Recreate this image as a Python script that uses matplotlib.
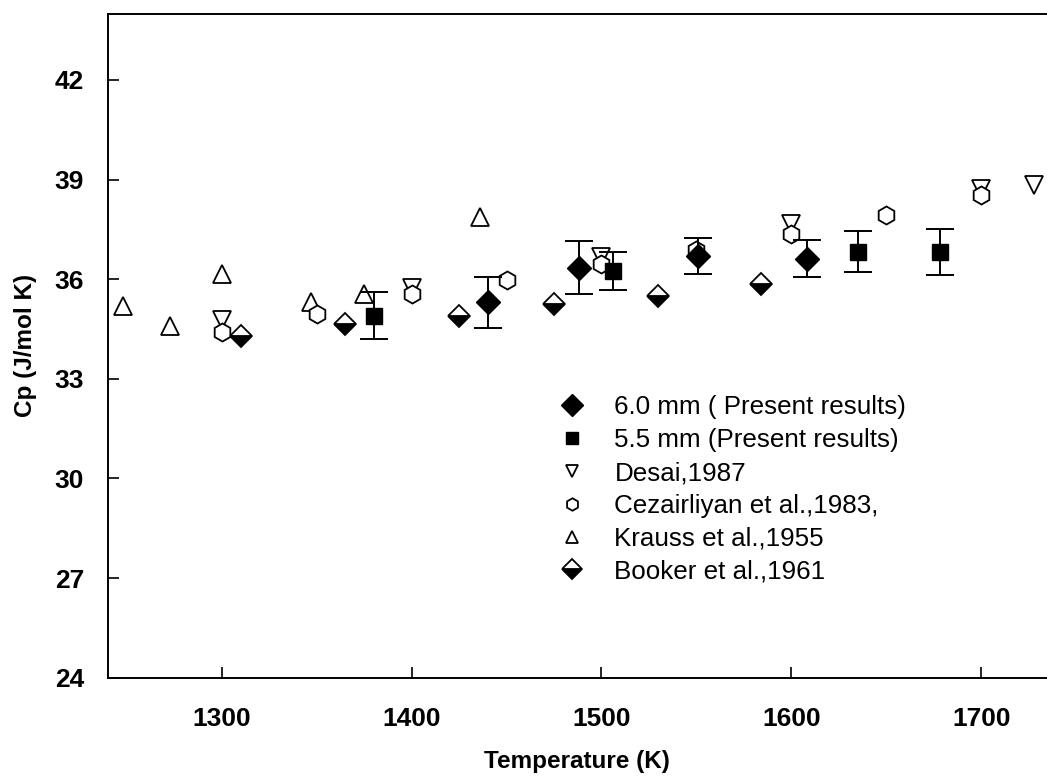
import matplotlib
matplotlib.use("Agg")
import matplotlib.pyplot as plt
from matplotlib.lines import Line2D

plt.rcParams['font.family'] = ['Liberation Sans', 'DejaVu Sans']

# Present results: 6.0 mm sample (temperature K, Cp J/mol K, error)
t_60 = [1440, 1488, 1551, 1608]
cp_60 = [35.30, 36.35, 36.69, 36.62]
err_60 = [0.78, 0.80, 0.54, 0.56]

# Present results: 5.5 mm sample
t_55 = [1380, 1506, 1635, 1678]
cp_55 = [34.90, 36.24, 36.83, 36.82]
err_55 = [0.70, 0.57, 0.62, 0.70]

# Literature values
t_desai = [1300, 1400, 1500, 1600, 1700, 1728]
cp_desai = [34.76, 35.74, 36.66, 37.65, 38.72, 38.85]

t_cez = [1300, 1350, 1400, 1450, 1500, 1550, 1600, 1650, 1700]
cp_cez = [34.41, 34.96, 35.56, 35.99, 36.45, 36.87, 37.37, 37.94, 38.54]

t_krauss = [1248, 1273, 1300, 1347, 1375, 1436]
cp_krauss = [35.18, 34.58, 36.17, 35.31, 35.56, 37.87]

t_booker = [1310, 1365, 1425, 1475, 1530, 1584]
cp_booker = [34.28, 34.64, 34.88, 35.24, 35.49, 35.86]

labels = ["6.0 mm ( Present results)", "5.5 mm (Present results)", "Desai,1987",
          "Cezairliyan et al.,1983,", "Krauss et al.,1955", "Booker et al.,1961"]

x_ticks = [1300, 1400, 1500, 1600, 1700]
y_ticks = [24, 27, 30, 33, 36, 39, 42]

fig = plt.figure(figsize=(10.47, 7.76), dpi=100)
ax = fig.add_axes([0.1029, 0.1267, 0.8971, 0.8559])

open_style = dict(linestyle='none', markerfacecolor='white', markeredgecolor='black',
                  markeredgewidth=1.3)

ax.plot(t_krauss, cp_krauss, marker='^', markersize=13, **open_style, zorder=3)
ax.plot(t_desai, cp_desai, marker='v', markersize=13, **open_style, zorder=3)
ax.plot(t_cez, cp_cez, marker='h', markersize=13, **open_style, zorder=4)
ax.plot(t_booker, cp_booker, marker='D', markersize=11.5, linestyle='none',
        fillstyle='bottom', markerfacecolor='black', markerfacecoloralt='white',
        markeredgecolor='black', markeredgewidth=1.3, zorder=3)

ax.errorbar(t_60, cp_60, yerr=err_60, fmt='D', color='black', markersize=12,
            ecolor='black', elinewidth=1.4, capsize=10, capthick=1.4, zorder=5)
ax.errorbar(t_55, cp_55, yerr=err_55, fmt='s', color='black', markersize=11,
            ecolor='black', elinewidth=1.4, capsize=10, capthick=1.4, zorder=5)

ax.set_xlim(1240, 1734.6)
ax.set_ylim(24, 44)
ax.set_xticks(x_ticks)
ax.set_yticks(y_ticks)

for side in ['left', 'bottom', 'top']:
    ax.spines[side].set_linewidth(1.4)
ax.spines['right'].set_visible(False)

ax.tick_params(direction='in', length=8, width=1.2, labelsize=19)
ax.tick_params(axis='x', pad=21)
ax.tick_params(axis='y', pad=17)
for lab in ax.get_xticklabels() + ax.get_yticklabels():
    lab.set_fontweight('bold')

ax.set_xlabel("Temperature (K)", fontsize=17.5, fontweight='bold', labelpad=14)
ax.set_ylabel("Cp (J/mol K)", fontsize=17.5, fontweight='bold', labelpad=13)

handles = [
    Line2D([], [], marker='D', linestyle='none', color='black', markersize=11),
    Line2D([], [], marker='s', linestyle='none', color='black', markersize=9),
    Line2D([], [], marker='v', markersize=9, **open_style),
    Line2D([], [], marker='h', markersize=9, **open_style),
    Line2D([], [], marker='^', markersize=9, **open_style),
    Line2D([], [], marker='D', markersize=10, linestyle='none', fillstyle='bottom',
           markerfacecolor='black', markerfacecoloralt='white',
           markeredgecolor='black', markeredgewidth=1.3),
]
ax.legend(handles, labels, loc='upper left', bbox_to_anchor=(0.48, 0.425),
          frameon=False, fontsize=18.7, handlelength=1.0, handletextpad=1.15,
          labelspacing=0.34, borderpad=0, borderaxespad=0)

fig.savefig("out.png", dpi=100)
